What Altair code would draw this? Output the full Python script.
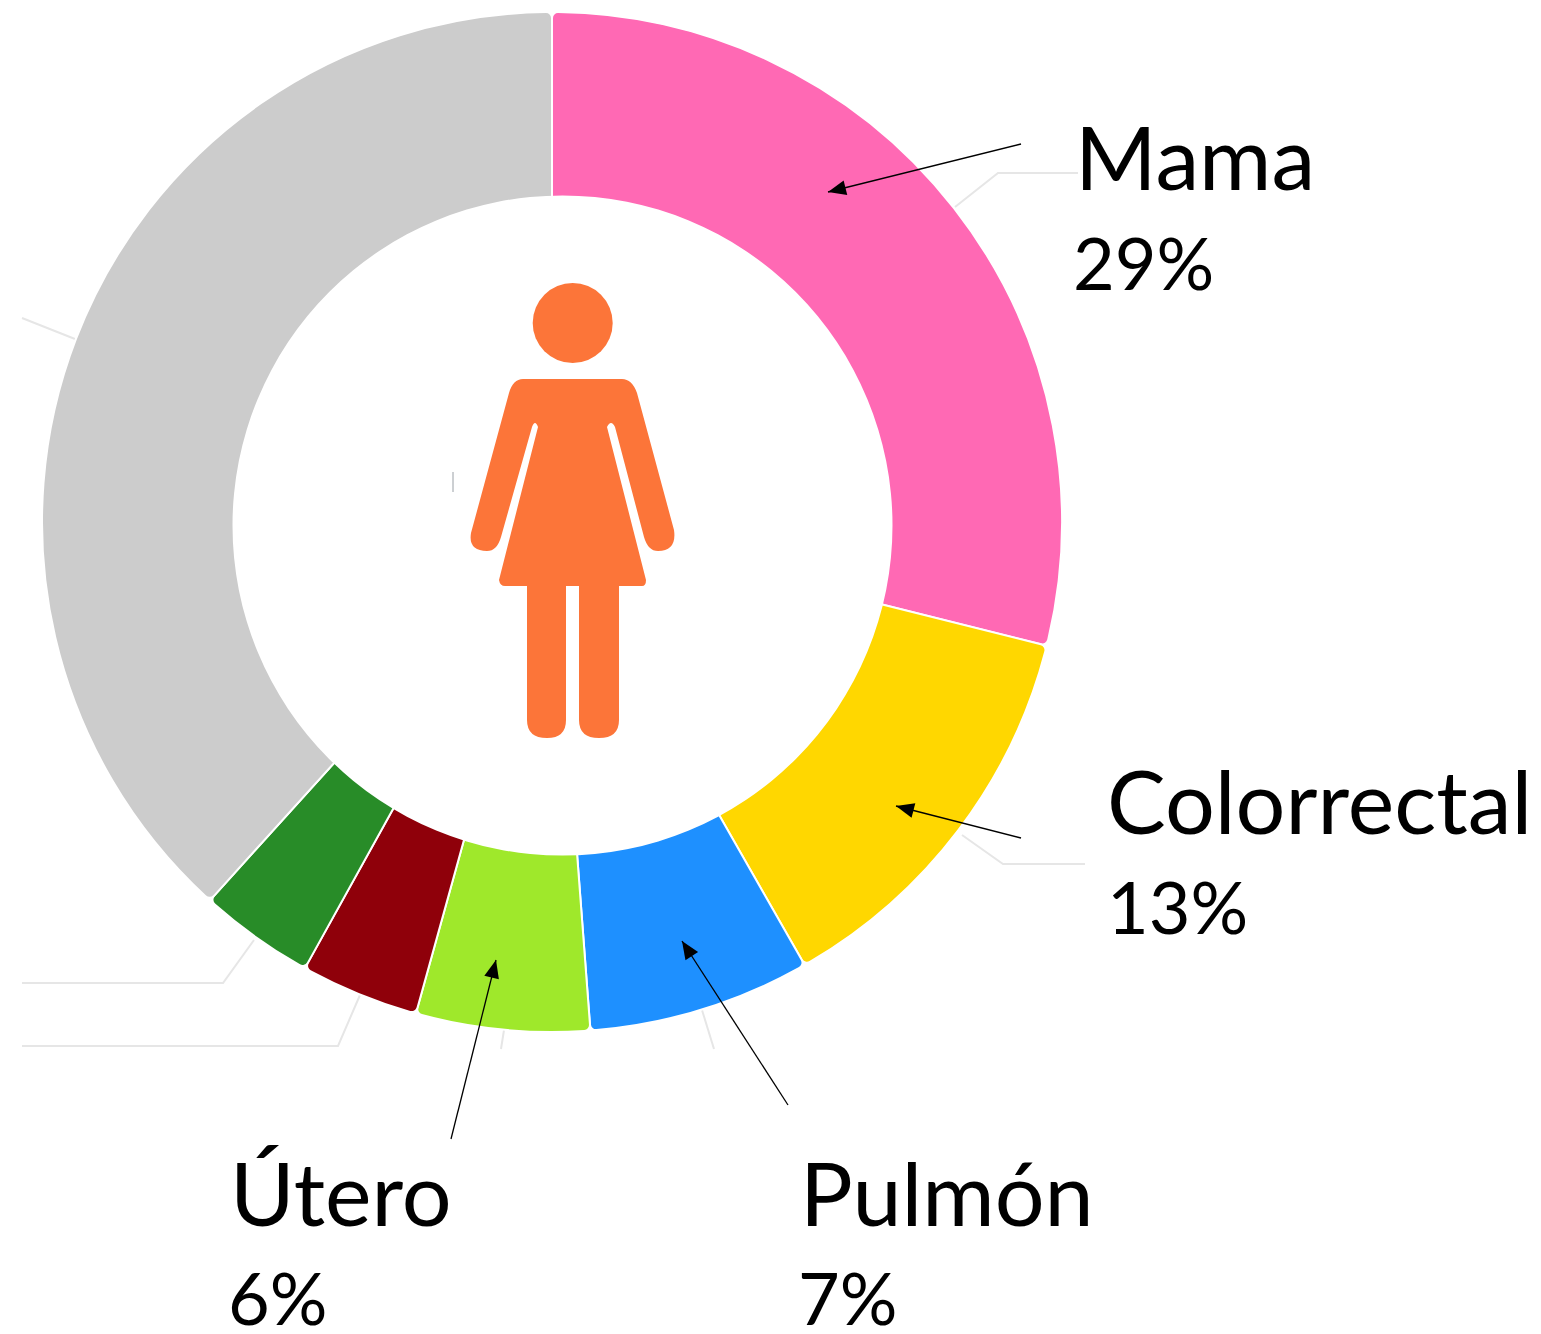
import math
import altair as alt
import pandas as pd

# Donut shares (percent of the ring), clockwise from 12 o'clock
categories = ["Mama", "Colorrectal", "Pulmón", "Útero", "Otro A", "Otro B", "Resto"]
shares = [28.9, 12.85, 7.05, 5.5, 3.75, 3.65, 38.3]
colors = ["#FF69B4", "#FFD700", "#1E90FF", "#9FE82B", "#8F000A", "#288C28", "#CCCCCC"]

label_names = ["Mama", "Colorrectal", "Pulmón", "Útero"]
label_values = ["29%", "13%", "7%", "6%"]
name_x = [1075, 1107, 800, 230]
name_y = [190, 834, 1226, 1226]
value_x = [1073, 1107, 798, 228]
value_y = [290, 934, 1325, 1325]

arrow_tail_x = [1021, 1021, 788, 451]
arrow_tail_y = [144, 838, 1105, 1139]
arrow_tip_x = [828, 896, 682, 496]
arrow_tip_y = [192, 806, 941, 960]

leaders = [
    [(955, 207), (998, 173), (1078, 173)],
    [(962, 835), (1003, 864), (1085, 864)],
    [(22, 318), (75, 339)],
    [(22, 983), (223, 983), (254, 940)],
    [(22, 1046), (338, 1046), (360, 995)],
    [(504, 1030), (501, 1049)],
    [(702, 1010), (714, 1049)],
]

W, H = 1525, 1322
X = alt.Scale(domain=[8, 8 + W], range=[0, W])
Y = alt.Scale(domain=[8, 8 + H], range=[0, H])
FONT = "Lato"

cum = 0
rows = []
for i, (c, s, col) in enumerate(zip(categories, shares, colors)):
    rows.append({"c": c, "start": cum / 100 * 2 * math.pi, "end": (cum + s) / 100 * 2 * math.pi,
                 "col": col, "x": 552, "y": 522})
    cum += s
ring_df = pd.DataFrame(rows)

ring = alt.Chart(ring_df).mark_arc(innerRadius=250, outerRadius=510, cornerRadius=6,
                                   stroke="white", strokeWidth=2).encode(
    x=alt.X("x:Q", scale=X, axis=None),
    y=alt.Y("y:Q", scale=Y, axis=None),
    theta=alt.Theta("start:Q", scale=None),
    theta2=alt.Theta2("end:Q"),
    color=alt.Color("col:N", scale=None),
)

hole = alt.Chart(pd.DataFrame({"x": [562.5], "y": [525.5]})).mark_point(
    shape="circle", filled=True, opacity=1, color="white", size=660 ** 2, strokeWidth=0
).encode(x=alt.X("x:Q", scale=X, axis=None), y=alt.Y("y:Q", scale=Y, axis=None))

head = alt.Chart(pd.DataFrame({"x": [572.7], "y": [323]})).mark_point(
    shape="circle", filled=True, opacity=1, color="#FC7539", size=80 ** 2, strokeWidth=0
).encode(x=alt.X("x:Q", scale=X, axis=None), y=alt.Y("y:Q", scale=Y, axis=None))

BODY = ("M-50,-131 L49,-131 Q59,-131 64,-117 L101,20 Q104,41 85,41 Q75,41 71,27 L42,-83 Q38,-91 34,-83 "
        "L73,70 Q73,76 69,76 L46,76 L46,210 Q46,228 26,228 Q6,228 6,210 L6,76 L-7,76 L-7,210 "
        "Q-7,228 -26,228 Q-46,228 -46,210 L-46,76 L-68,76 Q-73,76 -74,70 L-35,-83 Q-38,-91 -41,-83 "
        "L-72,27 Q-76,41 -86,41 Q-105,41 -102,23 L-64,-117 Q-60,-131 -50,-131 Z")
body = alt.Chart(pd.DataFrame({"x": [573], "y": [510]})).mark_point(
    shape=BODY, filled=True, opacity=1, color="#FC7539", size=4, strokeWidth=0
).encode(x=alt.X("x:Q", scale=X, axis=None), y=alt.Y("y:Q", scale=Y, axis=None))

leader_rows = []
for k, pts in enumerate(leaders):
    for i, (px, py) in enumerate(pts):
        leader_rows.append({"k": k, "i": i, "x": px, "y": py})
leader_chart = alt.Chart(pd.DataFrame(leader_rows)).mark_line(color="#E6E6E6", strokeWidth=2).encode(
    x=alt.X("x:Q", scale=X, axis=None), y=alt.Y("y:Q", scale=Y, axis=None),
    detail="k:N", order="i:Q",
)

tick = alt.Chart(pd.DataFrame({"x": [453], "y": [472], "y2": [492]})).mark_rule(
    color="#9aa0a6", strokeWidth=1
).encode(x=alt.X("x:Q", scale=X, axis=None), y=alt.Y("y:Q", scale=Y, axis=None), y2="y2:Q")

arrow_df = pd.DataFrame({"x": arrow_tail_x, "y": arrow_tail_y, "x2": arrow_tip_x, "y2": arrow_tip_y})
arrow_df["angle"] = [
    (math.degrees(math.atan2(a - c, -(b - d))) + 360) % 360
    for a, b, c, d in zip(arrow_tip_x, arrow_tip_y, arrow_tail_x, arrow_tail_y)
]
shafts = alt.Chart(arrow_df).mark_rule(color="black", strokeWidth=1.3).encode(
    x=alt.X("x:Q", scale=X, axis=None), y=alt.Y("y:Q", scale=Y, axis=None), x2="x2:Q", y2="y2:Q"
)
heads = alt.Chart(arrow_df).mark_point(
    shape="M0,0 L7.5,18 L-7.5,18 Z", filled=True, opacity=1, color="black", size=4, strokeWidth=0
).encode(
    x=alt.X("x2:Q", scale=X, axis=None), y=alt.Y("y2:Q", scale=Y, axis=None),
    angle=alt.Angle("angle:Q", scale=None),
)

names = alt.Chart(pd.DataFrame({"t": label_names, "x": name_x, "y": name_y})).mark_text(
    font=FONT, fontSize=88, align="left", baseline="alphabetic", color="black"
).encode(x=alt.X("x:Q", scale=X, axis=None), y=alt.Y("y:Q", scale=Y, axis=None), text="t:N")
vals = alt.Chart(pd.DataFrame({"t": label_values, "x": value_x, "y": value_y})).mark_text(
    font=FONT, fontSize=72, align="left", baseline="alphabetic", color="black"
).encode(x=alt.X("x:Q", scale=X, axis=None), y=alt.Y("y:Q", scale=Y, axis=None), text="t:N")

chart = alt.layer(leader_chart, ring, hole, tick, head, body, shafts, heads, names, vals).properties(
    width=W, height=H, padding=0, background="white",
    autosize=alt.AutoSizeParams(type="none"),
).configure_view(stroke=None)

chart.save("out.html", embed_options={"renderer": "svg", "actions": False})
